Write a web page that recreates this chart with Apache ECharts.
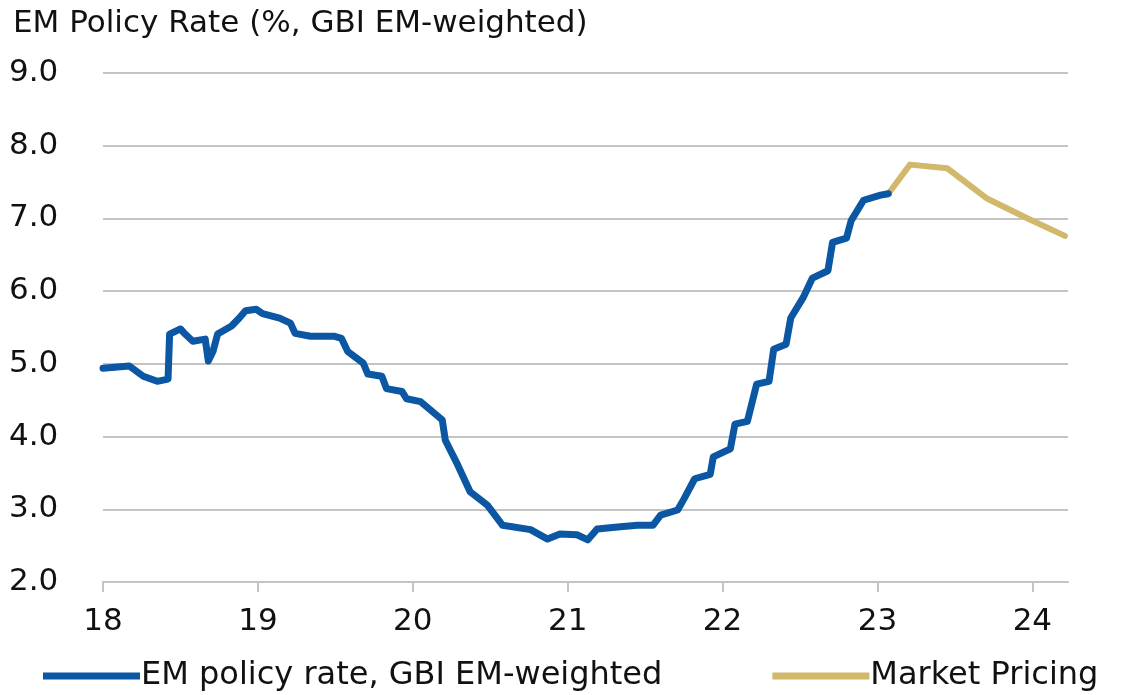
<!DOCTYPE html>
<html>
<head>
<meta charset="utf-8">
<script src="https://cdn.jsdelivr.net/npm/echarts@6/dist/echarts.min.js"></script>
<style>
  html, body { margin: 0; padding: 0; background: #fff; }
  #chart { width: 1137px; height: 695px; }
</style>
</head>
<body>
<div id="chart"></div>
<script>
// EM policy rate, GBI EM-weighted (year as 18..23, value %)
var policyYears = [18.00, 18.17, 18.26, 18.35, 18.42, 18.43, 18.50, 18.53, 18.58, 18.66, 18.68, 18.71, 18.74,
  18.83, 18.88, 18.92, 18.99, 19.03, 19.14, 19.21, 19.24, 19.34, 19.49, 19.54, 19.58, 19.68, 19.71,
  19.80, 19.83, 19.93, 19.96, 20.05, 20.19, 20.21, 20.29, 20.37, 20.48, 20.58, 20.76, 20.87, 20.95,
  21.06, 21.13, 21.19, 21.34, 21.45, 21.55, 21.60, 21.71, 21.75, 21.82, 21.92, 21.94, 22.05, 22.08,
  22.16, 22.22, 22.30, 22.33, 22.41, 22.44, 22.52, 22.58, 22.68, 22.71, 22.80, 22.83, 22.91, 23.02, 23.07];
var policyRate = [4.94, 4.97, 4.83, 4.76, 4.79, 5.41, 5.48, 5.41, 5.31, 5.34, 5.04, 5.17, 5.41,
  5.52, 5.63, 5.73, 5.75, 5.69, 5.63, 5.56, 5.42, 5.38, 5.38, 5.35, 5.17, 5.01, 4.86,
  4.83, 4.66, 4.62, 4.52, 4.48, 4.23, 3.95, 3.61, 3.24, 3.06, 2.78, 2.72, 2.59, 2.66,
  2.65, 2.58, 2.73, 2.76, 2.78, 2.78, 2.92, 2.99, 3.14, 3.42, 3.48, 3.72, 3.83, 4.17,
  4.21, 4.72, 4.76, 5.20, 5.27, 5.63, 5.91, 6.18, 6.28, 6.67, 6.73, 6.97, 7.25, 7.32, 7.34];

// Market pricing path
var pricingYears = [23.07, 23.21, 23.45, 23.71, 23.97, 24.21];
var pricingRate = [7.34, 7.74, 7.69, 7.27, 7.00, 6.76];

var yTicks = [2, 3, 4, 5, 6, 7, 8, 9];

function pairs(xs, ys) {
  return xs.map(function (x, i) { return [x, ys[i]]; });
}

var font = 'DejaVu Sans';
var option = {
  animation: false,
  title: {
    text: 'EM Policy Rate (%, GBI EM-weighted)',
    left: 8,
    top: 3,
    textStyle: { fontFamily: font, fontWeight: 'normal', fontSize: 31, color: '#111' }
  },
  legend: {
    left: 38,
    top: 655,
    itemWidth: 97,
    itemHeight: 7,
    itemGap: 110,
    icon: 'rect',
    textStyle: { fontFamily: font, fontSize: 32, color: '#111', padding: [0, 0, 0, -4] },
    data: ['EM policy rate, GBI EM-weighted', 'Market Pricing']
  },
  grid: { left: 103, right: 69, top: 73, bottom: 113 },
  xAxis: {
    type: 'value',
    min: 18,
    max: 24.23,
    interval: 1,
    axisLine: { show: true, lineStyle: { color: '#c4c4c4', width: 2 } },
    axisTick: { show: true, length: 10, lineStyle: { color: '#c4c4c4', width: 2 } },
    splitLine: { show: false },
    axisLabel: {
      margin: 24,
      fontFamily: font,
      fontSize: 31,
      color: '#111',
      showMaxLabel: false,
      formatter: function (v) { return String(Math.round(v)); }
    }
  },
  yAxis: {
    type: 'value',
    min: yTicks[0],
    max: yTicks[yTicks.length - 1],
    interval: 1,
    axisLine: { show: false },
    axisTick: { show: false },
    splitLine: { lineStyle: { color: '#c4c4c4', width: 2 } },
    axisLabel: {
      align: 'left',
      margin: 94,
      fontFamily: font,
      fontSize: 31,
      color: '#111',
      formatter: function (v) { return v.toFixed(1); }
    }
  },
  series: [
    {
      name: 'EM policy rate, GBI EM-weighted',
      type: 'line',
      data: pairs(policyYears, policyRate),
      showSymbol: false,
      color: '#0b57a4',
      lineStyle: { width: 7, color: '#0b57a4', join: 'round', cap: 'round' },
      z: 3
    },
    {
      name: 'Market Pricing',
      type: 'line',
      data: pairs(pricingYears, pricingRate),
      showSymbol: false,
      color: '#d2b86a',
      lineStyle: { width: 6, color: '#d2b86a', join: 'round', cap: 'round' },
      z: 2
    }
  ]
};

var chart = echarts.init(document.getElementById('chart'));
chart.setOption(option);
</script>
</body>
</html>
